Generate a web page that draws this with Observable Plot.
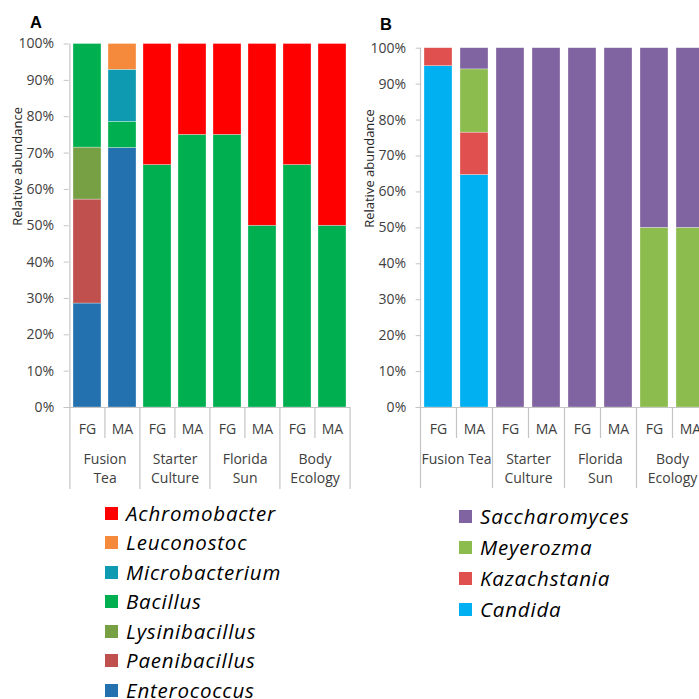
<!DOCTYPE html>
<html>
<head>
<meta charset="utf-8">
<script src="https://cdn.jsdelivr.net/npm/d3@7"></script>
<script src="https://cdn.jsdelivr.net/npm/@observablehq/plot@0.6"></script>
<style>
  body { margin: 0; overflow: hidden; background: white; }
  #root { position: relative; width: 699px; height: 699px; overflow: hidden; background: white; font-family: "Open Sans", sans-serif; }
  .panel { position: absolute; top: 0; }
  .panel svg { background: transparent !important; max-width: none !important; }
  .tag { position: absolute; font-family: "Liberation Sans", Arial, sans-serif; font-weight: bold; font-size: 16.5px; color: #000; }
  .leg { position: absolute; display: flex; align-items: center; font-family: "Open Sans", sans-serif; font-style: italic; font-size: 20.5px; letter-spacing: 0.8px; color: #000; white-space: nowrap; line-height: 1; }
  .leg span.sw { display: inline-block; width: 13px; height: 13px; margin-right: 8px; }
</style>
</head>
<body>
<div id="root"></div>
<script>
// ---------- data ----------
const groupsA = ["Fusion\nTea", "Starter\nCulture", "Florida\nSun", "Body\nEcology"];
const groupsB = ["Fusion Tea", "Starter\nCulture", "Florida\nSun", "Body\nEcology"];
const samples = ["FG", "MA"];
const yTicks = [0, 10, 20, 30, 40, 50, 60, 70, 80, 90, 100];

// Panel A (bacteria), stacking order bottom -> top
const bacteria = ["Enterococcus", "Paenibacillus", "Lysinibacillus", "Bacillus", "Microbacterium", "Leuconostoc", "Achromobacter"];
const bacteriaColors = ["#2371AE", "#C0504D", "#77A044", "#00B050", "#0E9BB2", "#F58A3C", "#FF0000"];
const enterococcus   = [28.6, 71.4, 0, 0, 0, 0, 0, 0];
const paenibacillus  = [28.6, 0, 0, 0, 0, 0, 0, 0];
const lysinibacillus = [14.3, 0, 0, 0, 0, 0, 0, 0];
const bacillus       = [28.5, 7.2, 66.7, 75, 75, 50, 66.7, 50];
const microbacterium = [0, 14.3, 0, 0, 0, 0, 0, 0];
const leuconostoc    = [0, 7.1, 0, 0, 0, 0, 0, 0];
const achromobacter  = [0, 0, 33.3, 25, 25, 50, 33.3, 50];

// Panel B (yeasts), stacking order bottom -> top
const yeasts = ["Candida", "Kazachstania", "Meyerozma", "Saccharomyces"];
const yeastColors = ["#00B0F0", "#E0504E", "#8CBB4E", "#8064A2"];
const candida       = [95, 64.7, 0, 0, 0, 0, 0, 0];
const kazachstania  = [5, 11.8, 0, 0, 0, 0, 0, 0];
const meyerozma     = [0, 17.6, 0, 0, 0, 0, 50, 50];
const saccharomyces = [0, 5.9, 100, 100, 100, 100, 50, 50];

// ---------- helpers ----------
function makePanel({groups, genera, series, colors, width, height, ml, mr, mt, plotBottom, shortPx, longPx, yTitleDx}) {
  const keys = groups.flatMap((g, gi) => samples.map(s => gi + "|" + s));
  const rows = genera.flatMap((g, gi) => series[gi].map((v, i) => ({key: keys[i], genus: g, value: v}))).filter(d => d.value > 0);
  const innerW = width - ml - mr;
  const step = innerW / keys.length;
  const plotH = plotBottom - mt;
  const toData = px => -px / plotH * 100;
  const bounds = keys.map((k, i) => ({key: k, long: i % 2 === 0}));
  const groupRows = groups.map((g, gi) => ({key: keys[gi * 2], label: g}));
  const axisGray = "#C4C4C4";
  return Plot.plot({
    width, height,
    marginLeft: ml, marginRight: mr, marginTop: mt, marginBottom: height - plotBottom,
    style: {fontFamily: "Open Sans, sans-serif", fontSize: "14px", color: "#404040", background: "transparent", overflow: "visible"},
    x: {domain: keys, paddingInner: 0.21, paddingOuter: 0.105, axis: null},
    y: {domain: [0, 100], axis: null},
    color: {domain: genera, range: colors},
    marks: [
      Plot.barY(rows, {x: "key", y: "value", fill: "genus", order: genera, stroke: "#ffffff", strokeOpacity: 0.5, strokeWidth: 0.6}),
      Plot.ruleY([0], {stroke: axisGray, strokeWidth: 1.2, insetLeft: -5}),
      Plot.ruleX(bounds, {x: "key", dx: -step / 2, y1: 0, y2: d => toData(d.long ? longPx : shortPx), stroke: axisGray, strokeWidth: 1.2}),
      Plot.ruleX([keys[keys.length - 1]], {x: d => d, dx: step / 2, y1: 0, y2: toData(longPx), stroke: axisGray, strokeWidth: 1.2}),
      Plot.ruleX([keys[0]], {x: d => d, dx: -step / 2, y1: 0, y2: 100, stroke: axisGray, strokeWidth: 1.2}),
      Plot.axisY({ticks: yTicks, tickFormat: d => d + "%", tickSize: 5, tickPadding: 10, stroke: axisGray, fill: "#404040", label: null, fontSize: 14}),
      Plot.axisX({tickFormat: k => k.split("|")[1], tickSize: 0, tickPadding: 17, fill: "#404040", label: null, fontSize: 14}),
      Plot.text(groupRows, {x: "key", dx: step / 2, y: 0, dy: 44, text: "label", lineAnchor: "top", lineHeight: 1.3, fill: "#404040", fontSize: 14}),
      Plot.text(["Relative abundance"], {text: d => d, frameAnchor: "left", rotate: -90, dx: yTitleDx, fill: "#262626", fontSize: 13})
    ]
  });
}

const root = document.getElementById("root");

function place(node, left, width) {
  const div = document.createElement("div");
  div.className = "panel";
  div.style.left = left + "px";
  div.style.width = width + "px";
  div.appendChild(node);
  root.appendChild(div);
}

const plotA = makePanel({
  groups: groupsA, genera: bacteria,
  series: [enterococcus, paenibacillus, lysinibacillus, bacillus, microbacterium, leuconostoc, achromobacter],
  colors: bacteriaColors,
  width: 352, height: 500, ml: 68.7, mr: 2, mt: 43.5, plotBottom: 407,
  shortPx: 31, longPx: 82, yTitleDx: -51
});
place(plotA, 0, 352);

const plotB = makePanel({
  groups: groupsB, genera: yeasts,
  series: [candida, kazachstania, meyerozma, saccharomyces],
  colors: yeastColors,
  width: 360, height: 500, ml: 70.7, mr: 1.3, mt: 47.7, plotBottom: 407,
  shortPx: 31, longPx: 81, yTitleDx: -51
});
place(plotB, 350, 360);

function tag(t, left, top) {
  const d = document.createElement("div");
  d.className = "tag";
  d.textContent = t;
  d.style.left = left + "px";
  d.style.top = top + "px";
  root.appendChild(d);
}
tag("A", 30, 13);
tag("B", 380, 15);

function legend(names, colors, left, top, gap) {
  names.forEach((n, i) => {
    const d = document.createElement("div");
    d.className = "leg";
    d.style.left = left + "px";
    d.style.top = (top + i * gap - 10) + "px";
    d.style.height = "20px";
    const sw = document.createElement("span");
    sw.className = "sw";
    sw.style.background = colors[i];
    d.appendChild(sw);
    d.appendChild(document.createTextNode(n));
    root.appendChild(d);
  });
}
legend(bacteria.slice().reverse(), bacteriaColors.slice().reverse(), 105, 513, 29.5);
legend(yeasts.slice().reverse(), yeastColors.slice().reverse(), 459, 516, 31);
</script>
</body>
</html>
